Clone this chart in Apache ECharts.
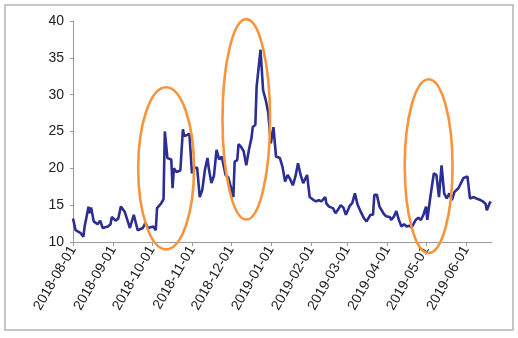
<!DOCTYPE html>
<html><head><meta charset="utf-8">
<script src="https://cdn.jsdelivr.net/npm/echarts@6/dist/echarts.min.js"></script>
<style>html,body{margin:0;padding:0;background:#fff}#c{width:518px;height:338px}</style>
</head><body><div id="c"></div>
<script>
const dates = ["2018-08-01","2018-08-03","2018-08-07","2018-08-09","2018-08-10","2018-08-13","2018-08-14","2018-08-15","2018-08-17","2018-08-20","2018-08-22","2018-08-24","2018-08-28","2018-08-30","2018-08-31","2018-09-03","2018-09-05","2018-09-07","2018-09-10","2018-09-12","2018-09-14","2018-09-17","2018-09-20","2018-09-24","2018-09-26","2018-09-28","2018-10-02","2018-10-04","2018-10-05","2018-10-08","2018-10-10","2018-10-11","2018-10-13","2018-10-16","2018-10-17","2018-10-18","2018-10-20","2018-10-23","2018-10-25","2018-10-26","2018-10-28","2018-10-30","2018-11-01","2018-11-02","2018-11-05","2018-11-07","2018-11-09","2018-11-11","2018-11-13","2018-11-14","2018-11-16","2018-11-18","2018-11-20","2018-11-22","2018-11-24","2018-11-27","2018-11-29","2018-12-01","2018-12-03","2018-12-04","2018-12-06","2018-12-07","2018-12-09","2018-12-11","2018-12-13","2018-12-15","2018-12-17","2018-12-18","2018-12-20","2018-12-21","2018-12-24","2018-12-26","2018-12-28","2018-12-30","2019-01-01","2019-01-03","2019-01-05","2019-01-08","2019-01-10","2019-01-12","2019-01-14","2019-01-16","2019-01-18","2019-01-20","2019-01-22","2019-01-24","2019-01-26","2019-01-29","2019-01-31","2019-02-03","2019-02-05","2019-02-07","2019-02-09","2019-02-12","2019-02-13","2019-02-15","2019-02-18","2019-02-20","2019-02-22","2019-02-24","2019-02-26","2019-02-28","2019-03-03","2019-03-05","2019-03-07","2019-03-09","2019-03-11","2019-03-14","2019-03-16","2019-03-19","2019-03-21","2019-03-22","2019-03-24","2019-03-26","2019-03-29","2019-03-31","2019-04-03","2019-04-04","2019-04-06","2019-04-08","2019-04-10","2019-04-12","2019-04-14","2019-04-16","2019-04-18","2019-04-20","2019-04-23","2019-04-25","2019-04-27","2019-04-29","2019-05-01","2019-05-02","2019-05-04","2019-05-07","2019-05-09","2019-05-11","2019-05-13","2019-05-15","2019-05-17","2019-05-19","2019-05-21","2019-05-23","2019-05-26","2019-05-28","2019-05-30","2019-06-02","2019-06-04","2019-06-07","2019-06-09","2019-06-12","2019-06-14","2019-06-16","2019-06-17","2019-06-19","2019-06-20"];
const values = [13.2,11.6,11.2,10.7,12.1,14.8,13.9,14.7,12.8,12.4,12.9,11.9,12.1,12.4,13.4,12.9,13.2,14.8,14.1,13.0,11.9,13.7,11.6,11.9,12.6,11.9,12.1,11.6,14.6,15.2,15.8,25.0,21.4,21.2,17.3,20.0,19.5,19.7,25.3,24.4,24.5,24.7,19.3,20.0,20.1,16.1,17.1,19.8,21.4,20.0,18.0,19.0,22.5,21.2,21.6,19.1,18.8,17.5,16.1,20.9,21.1,23.3,22.9,22.3,20.4,22.5,24.1,25.6,25.9,31.1,36.1,30.6,29.3,27.5,23.4,25.6,21.6,21.4,20.2,18.2,19.1,18.5,17.7,18.9,20.7,19.1,18.0,19.1,16.1,15.7,15.5,15.7,15.5,16.1,15.2,14.8,14.6,13.9,14.4,15.0,14.7,13.7,14.9,15.3,16.6,15.1,14.3,13.2,12.8,13.7,13.7,16.4,16.4,14.8,13.9,13.5,13.4,13.0,13.4,14.2,13.0,12.1,12.4,12.1,12.2,12.0,13.0,13.3,13.0,13.7,14.8,13.0,15.7,19.3,19.1,16.1,20.4,16.6,15.9,16.6,15.7,16.8,17.3,18.0,18.7,18.9,15.9,16.1,15.9,15.7,15.5,15.2,14.3,15.2,15.5];
const monthTicks = ["2018-08-01","2018-09-01","2018-10-01","2018-11-01","2018-12-01","2019-01-01","2019-02-01","2019-03-01","2019-04-01","2019-05-01","2019-06-01"];
const yTicks = [10,15,20,25,30,35,40];
// highlight ellipses: center date, center value, half-width (days), half-height (value units)
const ellipseCenters = ["2018-10-12","2018-12-13","2019-05-03"];
const ellipseValues = [20.0,26.65,20.3];
const ellipseHalfDays = [21.6,18.4,18.5];
const ellipseHalfVals = [11.0,13.6,11.8];

function ts(s){const p=s.split('-');return Date.UTC(+p[0],+p[1]-1,+p[2]);}
function fmt(v){const d=new Date(v);const m=d.getUTCMonth()+1,dd=d.getUTCDate();return d.getUTCFullYear()+'-'+(m<10?'0':'')+m+'-'+(dd<10?'0':'')+dd;}
const DAY=86400000;
const data = dates.map((d,i)=>[ts(d),values[i]]);
const chart = echarts.init(document.getElementById('c'));
const font = "'Liberation Sans Narrow','Liberation Sans',Arial,sans-serif";
const tickTs = monthTicks.map(ts);
chart.setOption({
  animation:false,
  grid:{left:73,right:26,top:21,bottom:96},
  xAxis:{type:'value',min:ts("2018-08-01"),max:ts("2019-06-21"),scale:true,
    axisLine:{lineStyle:{color:'#9a9a9a',width:1}},
    axisTick:{show:true,length:4,lineStyle:{color:'#9a9a9a'},customValues:tickTs},
    axisLabel:{customValues:tickTs,formatter:v=>fmt(v),rotate:60,margin:5,color:'#222',fontSize:14,fontFamily:font,showMinLabel:true,showMaxLabel:true,hideOverlap:false},
    splitLine:{show:false}},
  yAxis:{type:'value',min:10,max:40,interval:5,
    axisLine:{show:true,lineStyle:{color:'#9a9a9a'}},
    axisTick:{show:true,length:3,lineStyle:{color:'#9a9a9a'}},
    axisLabel:{color:'#222',fontSize:14,fontFamily:font,margin:9,formatter:v=>yTicks.includes(v)?String(v):''},
    splitLine:{show:false}},
  series:[{type:'line',data:data,showSymbol:false,symbol:'none',lineStyle:{color:'#2b2e92',width:2.6},z:2}]
});
const els=[{type:'rect',shape:{x:5,y:5,width:508,height:325},style:{fill:'none',stroke:'#b4b4b4',lineWidth:1.5},z:100}];
ellipseCenters.forEach((c,i)=>{
  const t=ts(c);
  const p=chart.convertToPixel({gridIndex:0},[t,ellipseValues[i]]);
  const px=chart.convertToPixel({gridIndex:0},[t+ellipseHalfDays[i]*DAY,ellipseValues[i]+ellipseHalfVals[i]]);
  els.push({type:'ellipse',shape:{cx:p[0],cy:p[1],rx:Math.abs(px[0]-p[0]),ry:Math.abs(px[1]-p[1])},style:{fill:'none',stroke:'#f7943c',lineWidth:2.6},z:100});
});
chart.setOption({graphic:{elements:els}});
</script></body></html>
